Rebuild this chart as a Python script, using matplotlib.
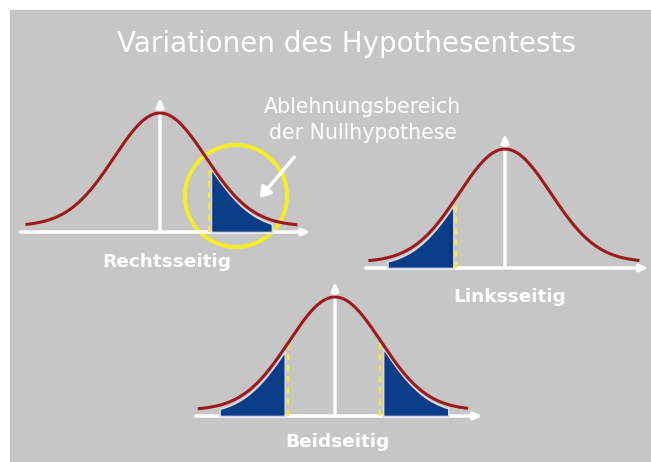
import numpy as np
import matplotlib
matplotlib.use("Agg")
import matplotlib.pyplot as plt
from matplotlib.patches import Circle, FancyArrowPatch

W, H = 651, 462
BG = "#c6c6c6"
RED = "#9e1a1a"
BLUE = "#0b3c87"
YEL = "#f2ec2a"

title = "Variationen des Hypothesentests"
labels = ["Rechtsseitig", "Linksseitig", "Beidseitig"]
callout = ["Ablehnungsbereich", "der Nullhypothese"]

# critical values and shaded regions per panel (x units of the sketch)
crit = [[1.22], [-1.22], [-1.17, 1.13]]
regions = [[(1.27, 2.8)], [(-2.95, -1.28)], [(-2.9, -1.24), (1.2, 2.85)]]
# curve and axis extents
curve_span = [(-3.33, 3.4), (-3.38, 3.33), (-3.4, 3.3)]
axis_span = [(-3.55, 3.83), (-3.55, 3.65), (-3.55, 3.75)]

z = np.linspace(-3.5, 3.5, 400)
SIG = 1.15
dens = 0.05 + 0.95 * np.exp(-z ** 2 / (2 * SIG ** 2))

# panel placement in pixels: center x, axis-line y
panels = [(160, 232), (505, 268), (335, 416)]
PX = 40.0    # pixels per x unit
PY = 119.0   # pixels per density unit

fig = plt.figure(figsize=(W / 100, H / 100), dpi=100)
fig.patch.set_facecolor("white")

bgax = fig.add_axes([0, 0, 1, 1])
bgax.set_xlim(0, W)
bgax.set_ylim(H, 0)
bgax.axis("off")
bgax.add_patch(plt.Rectangle((10, 10), W - 10, H - 10, color=BG, zorder=0))

for i, (cx, ay) in enumerate(panels):
    x0, x1 = -3.7, 4.0
    y0, y1 = -0.15, 1.25
    left = cx + x0 * PX
    bottom = ay - y0 * PY
    ax = fig.add_axes([left / W, (H - bottom) / H, (x1 - x0) * PX / W, (y1 - y0) * PY / H])
    ax.set_xlim(x0, x1)
    ax.set_ylim(y0, y1)
    ax.axis("off")
    ax.patch.set_alpha(0)

    for a, b in regions[i]:
        m = (z >= a) & (z <= b)
        ax.fill_between(z[m], 0, dens[m] - 0.03, color=BLUE, lw=1.2, ec="#d8d8e6", zorder=2)
    for c in crit[i]:
        top = np.interp(c, z, dens)
        ax.plot([c, c], [0, top - 0.02], color=YEL, lw=1.6, ls=(0, (3, 2)), zorder=3)

    m = (z >= curve_span[i][0]) & (z <= curve_span[i][1])
    ax.plot(z[m], dens[m], color=RED, lw=2.2, zorder=4)

    a0, a1 = axis_span[i]
    ax.annotate("", xy=(a1, 0), xytext=(a0, 0),
                arrowprops=dict(arrowstyle="-|>,head_length=0.45,head_width=0.2", color="white", lw=2.5),
                zorder=1)
    ax.annotate("", xy=(0, 1.15), xytext=(0, 0),
                arrowprops=dict(arrowstyle="-|>,head_length=0.45,head_width=0.2", color="white", lw=2.5),
                zorder=1)

label_pos = [(167, 262), (510, 297), (337, 442)]
for txt, (lx, ly) in zip(labels, label_pos):
    bgax.text(lx, ly, txt, color="white", fontsize=13.3, fontweight="bold",
              ha="center", va="center")

bgax.text(346, 44, title, color="white", fontsize=20, ha="center", va="center")
bgax.text(362, 107, callout[0], color="white", fontsize=14.8, ha="center", va="center")
bgax.text(363, 133, callout[1], color="white", fontsize=14.8, ha="center", va="center")

bgax.add_patch(Circle((236, 196), 51, fill=False, ec=YEL, lw=3, zorder=5))
bgax.add_patch(FancyArrowPatch((296, 155), (258, 200), arrowstyle="-|>,head_length=6,head_width=4",
                               color="white", lw=2.5, zorder=6))

fig.savefig("out.png", dpi=100, facecolor=fig.get_facecolor())
